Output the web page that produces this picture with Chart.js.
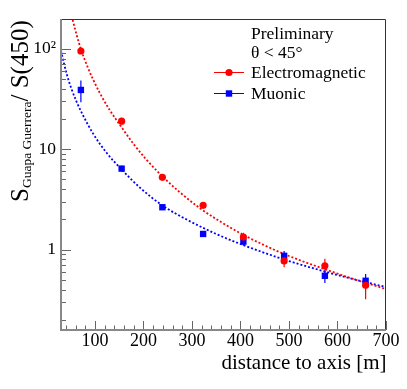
<!DOCTYPE html>
<html><head><meta charset="utf-8">
<script src="https://cdn.jsdelivr.net/npm/chart.js@4.4.1/dist/chart.umd.min.js"></script>
<style>html,body{margin:0;padding:0;background:#fff;} #wrap{width:407px;height:389px;}</style>
</head><body><div id="wrap"><canvas id="c" width="407" height="389"></canvas></div>
<script>
// ---- data ----
const distances = [71, 155, 239, 323, 406, 490, 574, 658];
const emValues = [95, 19.0, 5.24, 2.76, 1.33, 0.77, 0.69, 0.44];
const emLow    = [92, 18.4, 5.08, 2.67, 1.22, 0.665, 0.59, 0.32];
const emHigh   = [98, 19.6, 5.40, 2.85, 1.47, 0.90, 0.81, 0.50];
const muValues = [38.9, 6.4, 2.64, 1.43, 1.2, 0.866, 0.548, 0.489];
const muLow    = [29.3, 6.0, 2.52, 1.37, 1.10, 0.77, 0.464, 0.43];
const muHigh   = [48.4, 6.85, 2.77, 1.50, 1.30, 0.97, 0.615, 0.57];
// fitted curves
const emFitX = [54, 62, 71.5, 85, 96.5, 110, 130, 155, 180, 205, 239, 275, 317, 360, 406, 450, 490, 530, 574, 635, 700];
const emFitY = [194.5, 138.7, 97.7, 65.6, 49.1, 36.3, 24.7, 16.5, 11.2, 7.98, 5.36, 3.72, 2.57, 1.88, 1.40, 1.10, 0.902, 0.759, 0.637, 0.505, 0.404];
const muFitX = [30, 41.6, 52, 62, 72.6, 96.5, 124, 155, 193, 239, 289, 350, 406, 490, 574, 635, 700];
const muFitY = [95.1, 56.4, 39.4, 29.8, 23.1, 14.2, 9.2, 6.27, 4.13, 2.75, 1.99, 1.43, 1.107, 0.796, 0.604, 0.504, 0.423];
const xTickValues = [100, 200, 300, 400, 500, 600, 700];
const yTickValues = [1, 10, 100];
const yTickLabels = ['1', '10', '10\u00B2'];
const legendTexts = ['Preliminary', '\u03B8 < 45\u00B0', 'Electromagnetic', 'Muonic'];
const xTitle = 'distance to axis [m]';
const yTitleMain = 'S', yTitleSub = 'Guapa Guerrera', yTitleRest = '/ S(450)';

const FONT = "'Liberation Serif', 'Times New Roman', serif";
const RED = '#ff0000', BLUE = '#0000ff';

const pts = (xs, ys) => xs.map((x, i) => ({x: x, y: ys[i]}));

const framePlugin = {
  id: 'frame',
  beforeDatasetsDraw(chart) {
    const {ctx, scales: {x, y}} = chart;
    ctx.save();
    ctx.lineWidth = 1.2;
    const bars = (lo, hi, col) => {
      ctx.strokeStyle = col;
      distances.forEach((d, i) => {
        const px = x.getPixelForValue(d);
        ctx.beginPath();
        ctx.moveTo(px, y.getPixelForValue(lo[i]));
        ctx.lineTo(px, y.getPixelForValue(hi[i]));
        ctx.stroke();
      });
    };
    bars(emLow, emHigh, RED);
    bars(muLow, muHigh, BLUE);
    ctx.restore();
  },
  afterDraw(chart) {
    const {ctx, chartArea: a, scales: {x, y}} = chart;
    ctx.save();
    // ticks
    ctx.strokeStyle = '#666'; ctx.lineWidth = 1;
    for (let v = 40; v <= 700; v += 20) {
      const px = Math.round(x.getPixelForValue(v)) + 0.5;
      const len = v % 100 === 0 ? 9 : 4.5;
      ctx.beginPath(); ctx.moveTo(px, a.bottom); ctx.lineTo(px, a.bottom - len); ctx.stroke();
    }
    [0.1, 1, 10, 100].forEach(d => {
      for (let k = 1; k <= 9; k++) {
        const v = k * d;
        if (v < y.min || v > y.max) continue;
        const py = Math.round(y.getPixelForValue(v)) + 0.5;
        const len = k === 1 ? 10 : 5;
        ctx.beginPath(); ctx.moveTo(a.left, py); ctx.lineTo(a.left + len, py); ctx.stroke();
      }
    });
    // frame
    ctx.strokeStyle = '#333'; ctx.lineWidth = 1;
    ctx.beginPath(); ctx.moveTo(a.left, a.top + 0.5); ctx.lineTo(a.right - 0.5, a.top + 0.5); ctx.lineTo(a.right - 0.5, a.bottom); ctx.stroke();
    ctx.strokeStyle = '#888'; ctx.lineWidth = 2;
    ctx.beginPath(); ctx.moveTo(a.left, a.top); ctx.lineTo(a.left, a.bottom); ctx.lineTo(a.right, a.bottom); ctx.stroke();
    // legend
    ctx.fillStyle = '#000';
    ctx.font = '17.5px ' + FONT;
    ctx.textAlign = 'left'; ctx.textBaseline = 'alphabetic';
    const lx = 251;
    const bases = [38.6, 57.6, 78, 98.6];
    legendTexts.forEach((t, i) => ctx.fillText(t, lx, bases[i]));
    ctx.lineWidth = 1;
    ctx.strokeStyle = RED;
    ctx.beginPath(); ctx.moveTo(214, 72.5); ctx.lineTo(244, 72.5); ctx.stroke();
    ctx.fillStyle = RED;
    ctx.beginPath(); ctx.arc(229, 72.5, 3.6, 0, Math.PI * 2); ctx.fill();
    ctx.strokeStyle = BLUE;
    ctx.beginPath(); ctx.moveTo(214, 93.5); ctx.lineTo(244, 93.5); ctx.stroke();
    ctx.fillStyle = BLUE;
    ctx.fillRect(229 - 3.2, 93.5 - 3.2, 6.4, 6.4);
    // x title
    ctx.fillStyle = '#000';
    ctx.font = '21px ' + FONT;
    ctx.textAlign = 'right';
    ctx.fillText(xTitle, 386.5, 368.5);
    // y title
    ctx.translate(28.3, 202);
    ctx.rotate(-Math.PI / 2);
    ctx.textAlign = 'left';
    ctx.font = '25px ' + FONT;
    ctx.fillText(yTitleMain, 0, 0);
    const w1 = ctx.measureText(yTitleMain).width;
    ctx.font = '13.5px ' + FONT;
    ctx.fillText(yTitleSub, w1, 2.3);
    const w2 = ctx.measureText(yTitleSub).width;
    ctx.font = '25px ' + FONT;
    ctx.fillText(yTitleRest, w1 + w2, 0);
    ctx.restore();
  }
};

new Chart(document.getElementById('c'), {
  type: 'scatter',
  data: {
    datasets: [
      {label: 'Electromagnetic', data: pts(distances, emValues), pointStyle: 'circle', pointRadius: 3.6,
       backgroundColor: RED, borderColor: RED, borderWidth: 0, showLine: false, order: 0},
      {label: 'Muonic', data: pts(distances, muValues), pointStyle: 'rect', pointRadius: 4.5,
       backgroundColor: BLUE, borderColor: BLUE, borderWidth: 0, showLine: false, order: 0},
      {label: 'EM fit', data: pts(emFitX, emFitY), showLine: true, borderColor: RED, borderWidth: 1.8,
       borderDash: [2, 2], pointRadius: 0, cubicInterpolationMode: 'monotone', fill: false, order: 1},
      {label: 'Mu fit', data: pts(muFitX, muFitY), showLine: true, borderColor: BLUE, borderWidth: 1.8,
       borderDash: [2, 2], pointRadius: 0, cubicInterpolationMode: 'monotone', fill: false, order: 1}
    ]
  },
  options: {
    responsive: false, animation: false, devicePixelRatio: 1,
    layout: {padding: {left: 0, right: 21, top: 19, bottom: 0}},
    plugins: {legend: {display: false}, tooltip: {enabled: false}},
    scales: {
      x: {type: 'linear', min: 30, max: 700,
          afterFit(s) { s.height = 59; },
          afterBuildTicks(s) { s.ticks = xTickValues.map(v => ({value: v})); },
          grid: {display: false, drawTicks: false}, border: {display: false},
          ticks: {font: {family: FONT, size: 18}, color: '#000', padding: 0, autoSkip: false, maxRotation: 0,
                  callback: v => String(v)}},
      y: {type: 'logarithmic', min: 0.158, max: 198,
          afterFit(s) { s.width = 61; },
          afterBuildTicks(s) { s.ticks = yTickValues.map(v => ({value: v})); },
          grid: {display: false, drawTicks: false}, border: {display: false},
          ticks: {font: {family: FONT, size: 17.5}, color: '#000', padding: 5, autoSkip: false,
                  callback: v => { const i = yTickValues.indexOf(v); return i >= 0 ? yTickLabels[i] : ''; }}}
    }
  },
  plugins: [framePlugin]
});
</script>
</body></html>
